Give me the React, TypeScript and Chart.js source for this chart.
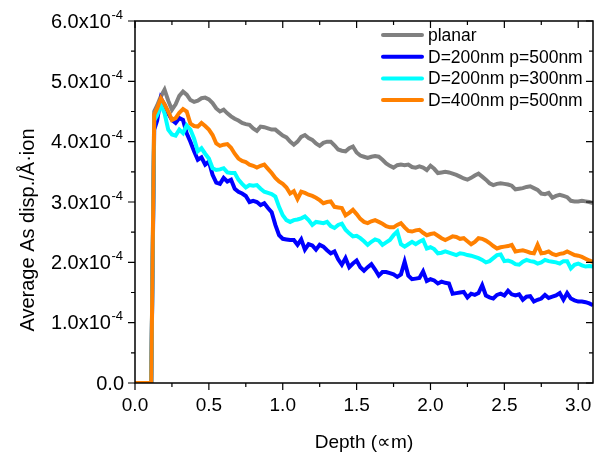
import React, { useEffect, useRef } from "react";
import { Chart, registerables } from "chart.js";

Chart.register(...registerables);

const FONT = '"Liberation Sans", Arial, Helvetica, sans-serif';
const SCALE = 1e-4;

const DEPTH = [
  0, 0.025, 0.05, 0.075, 0.11,
  0.13, 0.15, 0.175, 0.2, 0.225, 0.25, 0.275, 0.3, 0.325, 0.35,
  0.375, 0.4, 0.425, 0.45, 0.475, 0.5, 0.525, 0.55, 0.575, 0.6,
  0.625, 0.65, 0.675, 0.7, 0.725, 0.75, 0.775, 0.8, 0.825, 0.85,
  0.875, 0.9, 0.925, 0.95, 0.975, 1.0, 1.025, 1.05, 1.075, 1.1,
  1.125, 1.15, 1.175, 1.2, 1.225, 1.25, 1.275, 1.3, 1.325, 1.35,
  1.375, 1.4, 1.425, 1.45, 1.475, 1.5, 1.525, 1.55, 1.575, 1.6,
  1.625, 1.65, 1.675, 1.7, 1.725, 1.75, 1.775, 1.8, 1.825, 1.85,
  1.875, 1.9, 1.925, 1.95, 1.975, 2.0, 2.025, 2.05, 2.075, 2.1,
  2.125, 2.15, 2.175, 2.2, 2.225, 2.25, 2.275, 2.3, 2.325, 2.35,
  2.375, 2.4, 2.425, 2.45, 2.475, 2.5, 2.525, 2.55, 2.575, 2.6,
  2.625, 2.65, 2.675, 2.7, 2.725, 2.75, 2.775, 2.8, 2.825, 2.85,
  2.875, 2.9, 2.925, 2.95, 2.975, 3.0, 3.025, 3.05, 3.075, 3.1,
];

// values in units of 1e-4 displacements / (Å·ion)
const PLANAR = [
  0, 0, 0, 0, 0,
  4.50, 4.60, 4.75, 4.86, 4.68, 4.53, 4.62, 4.76, 4.83, 4.78,
  4.69, 4.66, 4.68, 4.72, 4.73, 4.70, 4.64, 4.55, 4.50, 4.53,
  4.47, 4.42, 4.38, 4.35, 4.31, 4.29, 4.28, 4.22, 4.18, 4.25,
  4.24, 4.22, 4.20, 4.20, 4.15, 4.10, 4.07, 4.00, 3.95, 4.00,
  4.08, 4.11, 4.06, 4.03, 3.97, 3.93, 3.98, 4.00, 4.00, 3.94,
  3.87, 3.85, 3.84, 3.89, 3.92, 3.82, 3.77, 3.75, 3.73, 3.75,
  3.76, 3.75, 3.70, 3.64, 3.60, 3.57, 3.61, 3.62, 3.61, 3.62,
  3.58, 3.57, 3.59, 3.57, 3.53, 3.60, 3.55, 3.48, 3.49, 3.50,
  3.49, 3.47, 3.45, 3.42, 3.39, 3.37, 3.40, 3.44, 3.47, 3.42,
  3.37, 3.31, 3.28, 3.30, 3.31, 3.30, 3.29, 3.27, 3.21, 3.22,
  3.23, 3.25, 3.26, 3.23, 3.20, 3.14, 3.13, 3.15, 3.07, 3.10,
  3.12, 3.10, 3.08, 3.02, 3.01, 3.01, 3.02, 3.01, 3.00, 2.98,
];

const D200_P500 = [
  0, 0, 0, 0, 0,
  4.20, 4.35, 4.72, 4.61, 4.47, 4.36, 4.31, 4.39, 4.36, 4.14,
  4.00, 3.84, 3.70, 3.74, 3.62, 3.67, 3.45, 3.32, 3.30, 3.40,
  3.34, 3.37, 3.22, 3.17, 3.14, 3.10, 3.00, 3.02, 3.00, 2.95,
  2.98, 2.90, 2.83, 2.62, 2.45, 2.39, 2.38, 2.37, 2.37, 2.29,
  2.38, 2.21, 2.30, 2.28, 2.21, 2.29, 2.26, 2.20, 2.15, 2.18,
  2.05, 1.96, 2.07, 1.92, 1.98, 2.03, 1.92, 1.86, 1.92, 1.97,
  1.88, 1.78, 1.84, 1.84, 1.82, 1.80, 1.76, 1.80, 2.01, 1.78,
  1.72, 1.73, 1.74, 1.85, 1.69, 1.72, 1.70, 1.65, 1.68, 1.66,
  1.65, 1.48, 1.49, 1.50, 1.51, 1.42, 1.48, 1.46, 1.49, 1.62,
  1.45, 1.42, 1.40, 1.46, 1.48, 1.45, 1.53, 1.47, 1.45, 1.47,
  1.38, 1.43, 1.44, 1.35, 1.38, 1.40, 1.46, 1.41, 1.43, 1.45,
  1.49, 1.38, 1.49, 1.40, 1.37, 1.35, 1.35, 1.34, 1.32, 1.29,
];

const D200_P300 = [
  0, 0, 0, 0, 0,
  4.35, 4.44, 4.61, 4.47, 4.20, 4.12, 4.10, 4.20, 4.14, 4.27,
  4.20, 4.05, 3.84, 3.89, 3.80, 3.72, 3.56, 3.53, 3.54, 3.56,
  3.49, 3.48, 3.48, 3.37, 3.30, 3.24, 3.28, 3.27, 3.28, 3.22,
  3.17, 3.15, 3.13, 3.09, 2.92, 2.78, 2.70, 2.67, 2.70, 2.71,
  2.73, 2.76, 2.70, 2.62, 2.67, 2.66, 2.65, 2.67, 2.60, 2.57,
  2.62, 2.64, 2.54, 2.48, 2.43, 2.44, 2.40, 2.35, 2.29, 2.34,
  2.38, 2.36, 2.29, 2.33, 2.37, 2.45, 2.51, 2.30, 2.26, 2.30,
  2.34, 2.30, 2.34, 2.37, 2.23, 2.25, 2.22, 2.15, 2.16, 2.18,
  2.16, 2.14, 2.12, 2.15, 2.14, 2.12, 2.11, 2.09, 2.07, 2.04,
  2.00, 2.02, 2.07, 2.12, 2.13, 2.02, 2.03, 2.01, 1.97, 1.96,
  2.01, 2.04, 2.02, 2.01, 1.98, 2.00, 2.04, 2.02, 2.01, 2.00,
  1.98, 2.02, 2.02, 1.90, 1.96, 1.98, 1.95, 1.93, 1.94, 1.93,
];

const D400_P500 = [
  0, 0, 0, 0, 0,
  4.45, 4.55, 4.72, 4.62, 4.50, 4.36, 4.39, 4.48, 4.54, 4.50,
  4.30, 4.26, 4.25, 4.31, 4.26, 4.20, 4.11, 3.97, 3.93, 3.95,
  3.96, 3.90, 3.80, 3.72, 3.68, 3.66, 3.62, 3.60, 3.57, 3.60,
  3.62, 3.55, 3.48, 3.40, 3.34, 3.30, 3.24, 3.14, 3.18, 3.05,
  3.17, 3.15, 3.12, 3.10, 3.07, 3.03, 2.98, 3.00, 3.01, 2.92,
  2.91, 2.90, 2.78, 2.82, 2.87, 2.80, 2.72, 2.67, 2.65, 2.68,
  2.70, 2.67, 2.64, 2.60, 2.58, 2.58, 2.62, 2.65, 2.58, 2.52,
  2.51, 2.53, 2.54, 2.49, 2.45, 2.47, 2.48, 2.44, 2.40, 2.37,
  2.40, 2.43, 2.42, 2.39, 2.40, 2.35, 2.30, 2.34, 2.40, 2.39,
  2.36, 2.32, 2.27, 2.23, 2.25, 2.26, 2.27, 2.29, 2.18, 2.19,
  2.20, 2.18, 2.16, 2.15, 2.29, 2.15, 2.16, 2.18, 2.14, 2.12,
  2.14, 2.15, 2.18, 2.15, 2.12, 2.11, 2.09, 2.06, 2.03, 2.01,
];

const SERIES_LABELS = ["planar", "D=200nm p=500nm", "D=200nm p=300nm", "D=400nm p=500nm"];
const SERIES_COLORS = ["#808080", "#0000FF", "#00FFFF", "#FF8000"];
const SERIES_VALUES = [PLANAR, D200_P500, D200_P300, D400_P500];

const X_MAJOR = [0, 0.5, 1.0, 1.5, 2.0, 2.5, 3.0];
const X_MAJOR_LABELS = ["0.0", "0.5", "1.0", "1.5", "2.0", "2.5", "3.0"];
const X_MINOR = [0.25, 0.75, 1.25, 1.75, 2.25, 2.75];
const Y_MAJOR = [0, 1, 2, 3, 4, 5, 6];
const Y_MAJOR_MANTISSA = ["0.0", "1.0", "2.0", "3.0", "4.0", "5.0", "6.0"];
const Y_MINOR = [0.5, 1.5, 2.5, 3.5, 4.5, 5.5];

const X_TITLE = "Depth (\u221Dm)";
const Y_TITLE = "Average As disp./\u00C5\u00B7ion";

const decorPlugin = {
  id: "decor",
  afterDraw(chart: any) {
    const ctx = chart.ctx as CanvasRenderingContext2D;
    const { left, right, top, bottom } = chart.chartArea;
    const xs = chart.scales.x;
    const ys = chart.scales.y;
    ctx.save();
    ctx.strokeStyle = "#000";
    ctx.fillStyle = "#000";
    ctx.lineWidth = 1.5;
    ctx.strokeRect(left, top, right - left, bottom - top);

    ctx.lineWidth = 1.2;
    ctx.beginPath();
    const tickX = (vals: number[], len: number) => {
      for (const v of vals) {
        const px = xs.getPixelForValue(v);
        ctx.moveTo(px, bottom);
        ctx.lineTo(px, bottom + len);
        ctx.moveTo(px, top);
        ctx.lineTo(px, top + len);
      }
    };
    const tickY = (vals: number[], len: number) => {
      for (const v of vals) {
        const py = ys.getPixelForValue(v * SCALE);
        ctx.moveTo(left, py);
        ctx.lineTo(left - len, py);
        ctx.moveTo(right, py);
        ctx.lineTo(right - len, py);
      }
    };
    tickX(X_MAJOR, 7);
    tickX(X_MINOR, 4);
    tickY(Y_MAJOR, 7);
    tickY(Y_MINOR, 4);
    ctx.stroke();

    // x tick labels
    ctx.font = `19px ${FONT}`;
    ctx.textAlign = "center";
    ctx.textBaseline = "middle";
    X_MAJOR.forEach((v, i) => {
      ctx.fillText(X_MAJOR_LABELS[i], xs.getPixelForValue(v), 406);
    });

    // y tick labels
    const labelRight = 123;
    Y_MAJOR.forEach((v, i) => {
      const py = ys.getPixelForValue(v * SCALE);
      if (v === 0) {
        ctx.font = `20px ${FONT}`;
        ctx.textAlign = "right";
        ctx.fillText("0.0", labelRight + 1, py + 1);
      } else {
        ctx.font = `13px ${FONT}`;
        ctx.textAlign = "right";
        const sup = "-4";
        const supW = ctx.measureText(sup).width;
        ctx.fillText(sup, labelRight, py - 6);
        ctx.font = `20px ${FONT}`;
        ctx.fillText(Y_MAJOR_MANTISSA[i] + "x10", labelRight - supW - 0.5, py + 1);
      }
    });

    // axis titles
    ctx.font = `19px ${FONT}`;
    ctx.textAlign = "center";
    ctx.fillText(X_TITLE, (left + right) / 2, 443);
    ctx.save();
    ctx.font = `20px ${FONT}`;
    ctx.translate(28, 230);
    ctx.rotate(-Math.PI / 2);
    ctx.fillText(Y_TITLE, 0, 0);
    ctx.restore();

    // legend
    ctx.font = `17.5px ${FONT}`;
    ctx.textAlign = "left";
    SERIES_LABELS.forEach((lab, i) => {
      const y = 35 + i * 21.7;
      ctx.strokeStyle = SERIES_COLORS[i];
      ctx.lineWidth = 4;
      ctx.lineCap = "round";
      ctx.beginPath();
      ctx.moveTo(383, y);
      ctx.lineTo(422, y);
      ctx.stroke();
      ctx.fillStyle = "#000";
      ctx.fillText(lab, 428, y + 1);
    });
    ctx.restore();
  },
};

export default function App() {
  const ref = useRef<HTMLCanvasElement | null>(null);
  useEffect(() => {
    if (!ref.current) return;
    const datasets = SERIES_VALUES.map((vals, i) => ({
      label: SERIES_LABELS[i],
      data: DEPTH.map((d, j) => ({ x: d, y: vals[j] * SCALE })),
      borderColor: SERIES_COLORS[i],
      backgroundColor: SERIES_COLORS[i],
      borderWidth: 4,
      pointRadius: 0,
      tension: 0,
      fill: false,
      order: 4 - i,
    }));
    const chart = new Chart(ref.current, {
      type: "line",
      data: { datasets },
      options: {
        animation: false,
        responsive: false,
        devicePixelRatio: 1,
        layout: { padding: { top: 21, right: 10, left: 0, bottom: 0 } },
        plugins: { legend: { display: false }, tooltip: { enabled: false } },
        scales: {
          x: {
            type: "linear",
            min: 0,
            max: 3.1,
            grid: { display: false },
            border: { display: false },
            ticks: { display: false },
            afterFit: (s: any) => {
              s.height = 72;
            },
          },
          y: {
            type: "linear",
            min: 0,
            max: 6e-4,
            grid: { display: false },
            border: { display: false },
            ticks: { display: false },
            afterFit: (s: any) => {
              s.width = 135;
            },
          },
        },
      },
      plugins: [decorPlugin],
    });
    return () => chart.destroy();
  }, []);
  return (
    <div style={{ position: "fixed", left: 0, top: 0, width: 603, height: 455, background: "#fff" }}>
      <canvas ref={ref} width={603} height={455} />
    </div>
  );
}
